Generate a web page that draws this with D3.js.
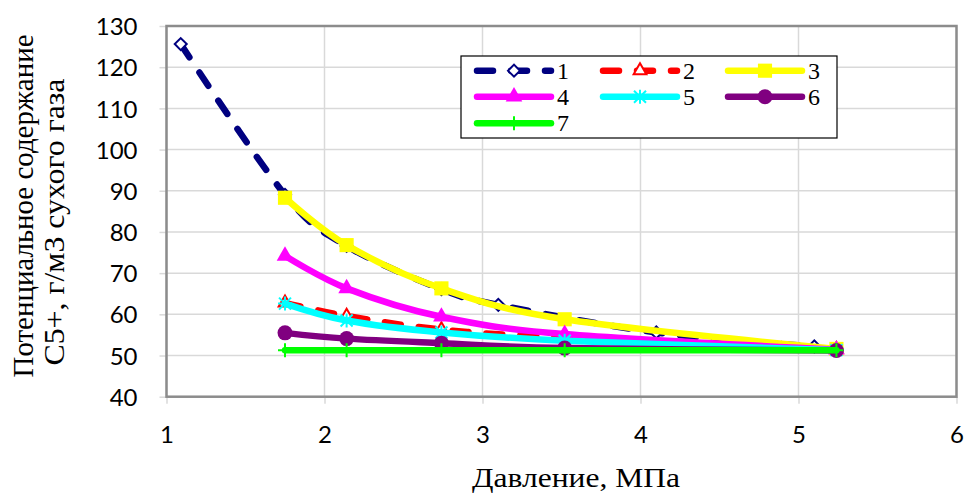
<!DOCTYPE html>
<html>
<head>
<meta charset="utf-8">
<script src="https://cdn.jsdelivr.net/npm/d3@7"></script>
<style>
  body { margin: 0; background: #fff; }
  .tick text { font-family: Lato, "Open Sans", sans-serif; font-size: 24px; fill: #000; }
  .title { font-family: "Liberation Serif", "Times New Roman", serif; fill: #000; }
</style>
</head>
<body>
<div id="chart"></div>
<script>
// chart values
var seriesNames = ["1", "2", "3", "4", "5", "6", "7"];

var xs1 = [1.09, 1.75, 2.14, 2.74, 3.1, 4.1, 5.1];
var ys1 = [125.6, 89.0, 76.6, 66.1, 62.3, 55.6, 52.2];

var xsCommon = [1.75, 2.14, 2.74, 3.52, 5.24];
var ys2 = [62.8, 59.6, 56.3, 54.3, 51.5];
var ys3 = [88.3, 76.8, 66.3, 58.8, 51.6];
var ys4 = [74.2, 66.3, 59.4, 55.2, 51.4];
var ys5 = [62.6, 58.5, 55.6, 53.6, 51.3];
var ys6 = [55.5, 54.1, 53.0, 51.8, 51.2];
var ys7 = [51.3, 51.3, 51.3, 51.3, 51.3];

var xTicks = [1, 2, 3, 4, 5, 6];
var yTicks = [40, 50, 60, 70, 80, 90, 100, 110, 120, 130];

var svgWidth = 965;
var svgHeight = 497;

var margin = { top: 26, right: 8.5, bottom: 100.3, left: 166.5 };
var width = svgWidth - margin.left - margin.right;
var height = svgHeight - margin.top - margin.bottom;

var svg = d3.select("#chart")
    .append("svg")
    .attr("width", svgWidth)
    .attr("height", svgHeight);

var x = d3.scaleLinear().domain([1, 6]).range([0, width]);
var y = d3.scaleLinear().domain([40, 130]).range([height, 0]);

var chartGroup = svg.append("g")
    .attr("transform", `translate(${margin.left}, ${margin.top})`);

// gridlines
chartGroup.append("g")
    .selectAll("line")
    .data(yTicks)
    .enter()
    .append("line")
    .attr("x1", 0).attr("x2", width)
    .attr("y1", d => y(d)).attr("y2", d => y(d))
    .attr("stroke", "#d9d9d9").attr("stroke-width", 1.5);

chartGroup.append("g")
    .selectAll("line")
    .data(xTicks)
    .enter()
    .append("line")
    .attr("x1", d => x(d)).attr("x2", d => x(d))
    .attr("y1", 0).attr("y2", height)
    .attr("stroke", "#d9d9d9").attr("stroke-width", 1.5);

// axes
var bottomAxis = d3.axisBottom(x).tickValues(xTicks).tickFormat(d3.format("d")).tickSize(7).tickPadding(22);
var leftAxis = d3.axisLeft(y).tickValues(yTicks).tickFormat(d3.format("d")).tickSize(7).tickPadding(22);

var xAxisG = chartGroup.append("g")
    .attr("transform", `translate(0, ${height})`)
    .call(bottomAxis);
var yAxisG = chartGroup.append("g")
    .call(leftAxis);

[xAxisG, yAxisG].forEach(function(g) {
    g.select(".domain").remove();
    g.selectAll(".tick line").attr("stroke", "#d9d9d9").attr("stroke-width", 1.5);
});
yAxisG.selectAll(".tick text").attr("dy", "0.36em").attr("x", -29);
xAxisG.selectAll(".tick text").attr("dy", "0.71em").attr("y", 29);

// plot frame
chartGroup.append("rect")
    .attr("x", 0).attr("y", 0)
    .attr("width", width).attr("height", height)
    .attr("fill", "none")
    .attr("stroke", "#8c8c8c")
    .attr("stroke-width", 2.5);

// series styling
var series = [
    { name: "1", xs: xs1, ys: ys1, color: "#000080", dash: "16,18", marker: "diamond" },
    { name: "2", xs: xsCommon, ys: ys2, color: "#ff0000", dash: "16,18", marker: "triangleOpen" },
    { name: "3", xs: xsCommon, ys: ys3, color: "#ffff00", dash: null, marker: "square" },
    { name: "4", xs: xsCommon, ys: ys4, color: "#ff00ff", dash: null, marker: "triangle" },
    { name: "5", xs: xsCommon, ys: ys5, color: "#00ffff", dash: null, marker: "star" },
    { name: "6", xs: xsCommon, ys: ys6, color: "#800080", dash: null, marker: "circle" },
    { name: "7", xs: xsCommon, ys: ys7, color: "#00ff00", dash: null, marker: "plus" }
];

var line = d3.line()
    .x(d => x(d[0]))
    .y(d => y(d[1]))
    .curve(d3.curveCatmullRom.alpha(0));

function drawMarker(g, type, color) {
    if (type === "diamond") {
        g.append("path")
            .attr("d", d3.symbol().type(d3.symbolSquare).size(72)())
            .attr("transform", "rotate(45)")
            .attr("fill", "#fff").attr("stroke", color).attr("stroke-width", 2);
    } else if (type === "triangleOpen") {
        g.append("path")
            .attr("d", d3.symbol().type(d3.symbolTriangle).size(70)())
            .attr("fill", "#fff").attr("stroke", color).attr("stroke-width", 2);
    } else if (type === "square") {
        g.append("path")
            .attr("d", d3.symbol().type(d3.symbolSquare).size(200)())
            .attr("fill", color);
    } else if (type === "triangle") {
        g.append("path")
            .attr("d", d3.symbol().type(d3.symbolTriangle).size(120)())
            .attr("fill", color);
    } else if (type === "circle") {
        g.append("circle").attr("r", 7.5).attr("fill", color);
    } else if (type === "star") {
        g.append("path")
            .attr("d", "M-6,-6L6,6M-6,6L6,-6M0,-7L0,7M-7,0L7,0")
            .attr("stroke", color).attr("stroke-width", 2).attr("fill", "none");
    } else if (type === "plus") {
        g.append("path")
            .attr("d", "M0,-7L0,7M-7,0L7,0")
            .attr("stroke", color).attr("stroke-width", 2).attr("fill", "none");
    }
}

series.forEach(function(s) {
    var pts = s.xs.map((v, i) => [v, s.ys[i]]);
    var sg = chartGroup.append("g");
    sg.append("path")
        .datum(pts)
        .attr("d", line)
        .attr("fill", "none")
        .attr("stroke", s.color)
        .attr("stroke-width", 6.5)
        .attr("stroke-linecap", "round")
        .attr("stroke-linejoin", "round")
        .attr("stroke-dasharray", s.dash);
    pts.forEach(function(p) {
        var mg = sg.append("g").attr("transform", `translate(${x(p[0])}, ${y(p[1])})`);
        drawMarker(mg, s.marker, s.color);
    });
});

// legend
var legend = svg.append("g").attr("transform", "translate(461, 56)");
legend.append("rect")
    .attr("width", 376).attr("height", 82)
    .attr("fill", "#fff").attr("stroke", "#000").attr("stroke-width", 1.2);

var colX = [16, 142, 267];
var rowY = [14.7, 40.7, 67.3];

series.forEach(function(s, i) {
    var cx = colX[i % 3];
    var cy = rowY[Math.floor(i / 3)];
    var lg = legend.append("g").attr("transform", `translate(${cx}, ${cy})`);
    lg.append("line")
        .attr("x1", 0).attr("x2", 74)
        .attr("y1", 0).attr("y2", 0)
        .attr("stroke", s.color)
        .attr("stroke-width", 6.5)
        .attr("stroke-linecap", "round")
        .attr("stroke-dasharray", s.dash);
    drawMarker(lg.append("g").attr("transform", "translate(37, 0)"), s.marker, s.color);
    lg.append("text")
        .attr("class", "title")
        .attr("x", 80)
        .attr("y", 8)
        .attr("font-size", "24px")
        .text(seriesNames[i]);
});

// axis titles
svg.append("text")
    .attr("class", "title")
    .attr("x", 576)
    .attr("y", 487)
    .attr("text-anchor", "middle")
    .attr("font-size", "28px")
    .attr("textLength", 208)
    .attr("lengthAdjust", "spacingAndGlyphs")
    .text("Давление, МПа");

svg.append("text")
    .attr("class", "title")
    .attr("transform", "translate(33, 206) rotate(-90)")
    .attr("text-anchor", "middle")
    .attr("font-size", "30px")
    .attr("textLength", 343)
    .attr("lengthAdjust", "spacingAndGlyphs")
    .text("Потенциальное содержание");

svg.append("text")
    .attr("class", "title")
    .attr("transform", "translate(64, 222) rotate(-90)")
    .attr("text-anchor", "middle")
    .attr("font-size", "30px")
    .attr("textLength", 287)
    .attr("lengthAdjust", "spacingAndGlyphs")
    .text("С5+, г/м3 сухого газа");
</script>
</body>
</html>
